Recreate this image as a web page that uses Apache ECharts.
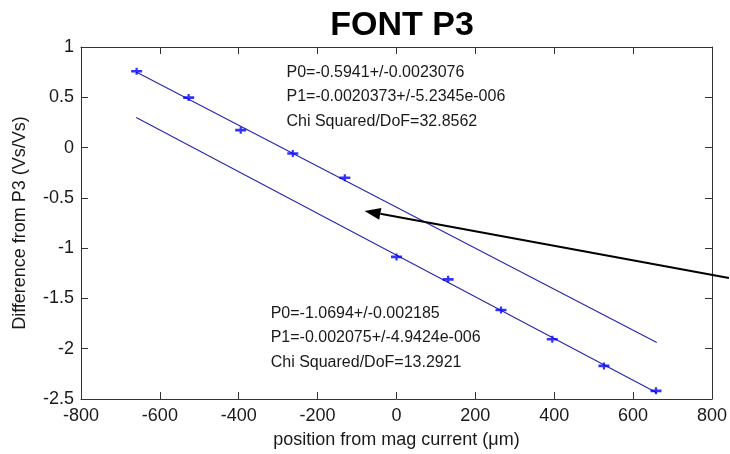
<!DOCTYPE html>
<html>
<head>
<meta charset="utf-8">
<script src="https://cdn.jsdelivr.net/npm/echarts@6/dist/echarts.min.js"></script>
<style>
  html, body { margin: 0; padding: 0; background: #ffffff; }
  #chart { width: 730px; height: 454px; }
</style>
</head>
<body>
<div id="chart"></div>
<script>
// Measured offsets: position (um) and difference from P3 (Vs/Vs)
const upperX = [-659, -527, -395, -263, -131];
const upperY = [0.759, 0.497, 0.173, -0.059, -0.300];
const lowerX = [0, 131, 265, 395, 526, 658];
const lowerY = [-1.087, -1.310, -1.615, -1.906, -2.171, -2.419];

// Linear fit parameters y = P0 + P1 * x
const upperP0 = -0.5941, upperP1 = -0.0020373;
const lowerP0 = -1.0694, lowerP1 = -0.002075;
const fitRange = [-660, 660];

// Axis ranges
const xMin = -800, xMax = 800, xStep = 200;
const yMin = -2.5, yMax = 1, yStep = 0.5;

// Fit summaries
const upperNotes = ['P0=-0.5941+/-0.0023076', 'P1=-0.0020373+/-5.2345e-006', 'Chi Squared/DoF=32.8562'];
const lowerNotes = ['P0=-1.0694+/-0.002185', 'P1=-0.002075+/-4.9424e-006', 'Chi Squared/DoF=13.2921'];
const upperNoteAt = [-279, 0.75];
const lowerNoteAt = [-319, -1.65];
// Arrow pointing at the upper fit line
const arrowTail = [843, -1.297];
const arrowTip = [-81, -0.63];

const FONT = "'Liberation Sans', Arial, Helvetica, sans-serif";
const AXIS_COLOR = '#333333';
const TEXT_COLOR = '#1a1a1a';
const LINE_COLOR = '#2626b0';
const MARK_COLOR = '#0000ff';
const plusMarker = 'path://M0,2H12V4.4H0Z M4.8,0H7.2V6.4H4.8Z';

const fitLine = (p0, p1) => fitRange.map(x => [x, p0 + p1 * x]);
const zip = (xs, ys) => xs.map((x, i) => [x, ys[i]]);

const chart = echarts.init(document.getElementById('chart'), null, { renderer: 'canvas' });

const baseAxis = {
  axisLine: { show: true, onZero: false, lineStyle: { color: AXIS_COLOR, width: 1 } },
  axisTick: { show: true, inside: true, length: 7, lineStyle: { color: AXIS_COLOR, width: 1 } },
  splitLine: { show: false }
};

function xAxisDef(pos, showLabels) {
  return Object.assign({}, baseAxis, {
    type: 'value', position: pos, min: xMin, max: xMax, interval: xStep,
    axisLabel: { show: showLabels, color: TEXT_COLOR, fontSize: 18, fontFamily: FONT, margin: 8 },
    name: showLabels ? 'position from mag current (\u03bcm)' : '',
    nameLocation: 'middle', nameGap: 32,
    nameTextStyle: { color: TEXT_COLOR, fontSize: 18, fontFamily: FONT }
  });
}
function yAxisDef(pos, showLabels) {
  return Object.assign({}, baseAxis, {
    type: 'value', position: pos, min: yMin, max: yMax, interval: yStep,
    axisLabel: { show: showLabels, color: TEXT_COLOR, fontSize: 18, fontFamily: FONT, margin: 7 },
    name: showLabels ? 'Difference from P3 (Vs/Vs)' : '',
    nameLocation: 'middle', nameGap: 52,
    nameTextStyle: { color: TEXT_COLOR, fontSize: 18, fontFamily: FONT }
  });
}

chart.setOption({
  animation: false,
  backgroundColor: '#ffffff',
  title: {
    text: 'FONT P3', left: 397, top: 4, textAlign: 'center',
    textStyle: { fontSize: 34, fontWeight: 'bold', color: '#000000', fontFamily: FONT }
  },
  grid: { left: 81, right: 17, top: 47, bottom: 55, containLabel: false },
  xAxis: [xAxisDef('bottom', true), xAxisDef('top', false)],
  yAxis: [yAxisDef('left', true), yAxisDef('right', false)],
  series: [
    { type: 'line', data: fitLine(upperP0, upperP1), symbol: 'none',
      lineStyle: { color: LINE_COLOR, width: 1.1 }, z: 2 },
    { type: 'line', data: fitLine(lowerP0, lowerP1), symbol: 'none',
      lineStyle: { color: LINE_COLOR, width: 1.1 }, z: 2 },
    { type: 'scatter', data: zip(upperX, upperY), symbol: plusMarker, symbolSize: [11, 7],
      itemStyle: { color: MARK_COLOR }, z: 3 },
    { type: 'scatter', data: zip(lowerX, lowerY), symbol: plusMarker, symbolSize: [11, 7],
      itemStyle: { color: MARK_COLOR }, z: 3 }
  ]
});

// Annotations placed from data coordinates
const px = p => chart.convertToPixel({ gridIndex: 0 }, p);
function noteBlock(lines, at) {
  const p = px(at);
  return lines.map((t, i) => ({
    type: 'text', x: p[0], y: p[1] + i * 24.5,
    style: { text: t, fill: TEXT_COLOR, font: '16px ' + FONT, textVerticalAlign: 'middle', textAlign: 'left' },
    z: 10
  }));
}
const tail = px(arrowTail), tip = px(arrowTip);
const dx = tip[0] - tail[0], dy = tip[1] - tail[1];
const len = Math.hypot(dx, dy), ux = dx / len, uy = dy / len;
const headLen = 16, headHalf = 6;
const base = [tip[0] - ux * headLen, tip[1] - uy * headLen];

chart.setOption({
  graphic: [
    ...noteBlock(upperNotes, upperNoteAt),
    ...noteBlock(lowerNotes, lowerNoteAt),
    { type: 'line', shape: { x1: tail[0], y1: tail[1], x2: base[0], y2: base[1] },
      style: { stroke: '#000000', lineWidth: 2 }, z: 10 },
    { type: 'polygon', shape: { points: [tip,
        [base[0] - uy * headHalf, base[1] + ux * headHalf],
        [base[0] + uy * headHalf, base[1] - ux * headHalf]] },
      style: { fill: '#000000' }, z: 10 }
  ]
});
</script>
</body>
</html>
